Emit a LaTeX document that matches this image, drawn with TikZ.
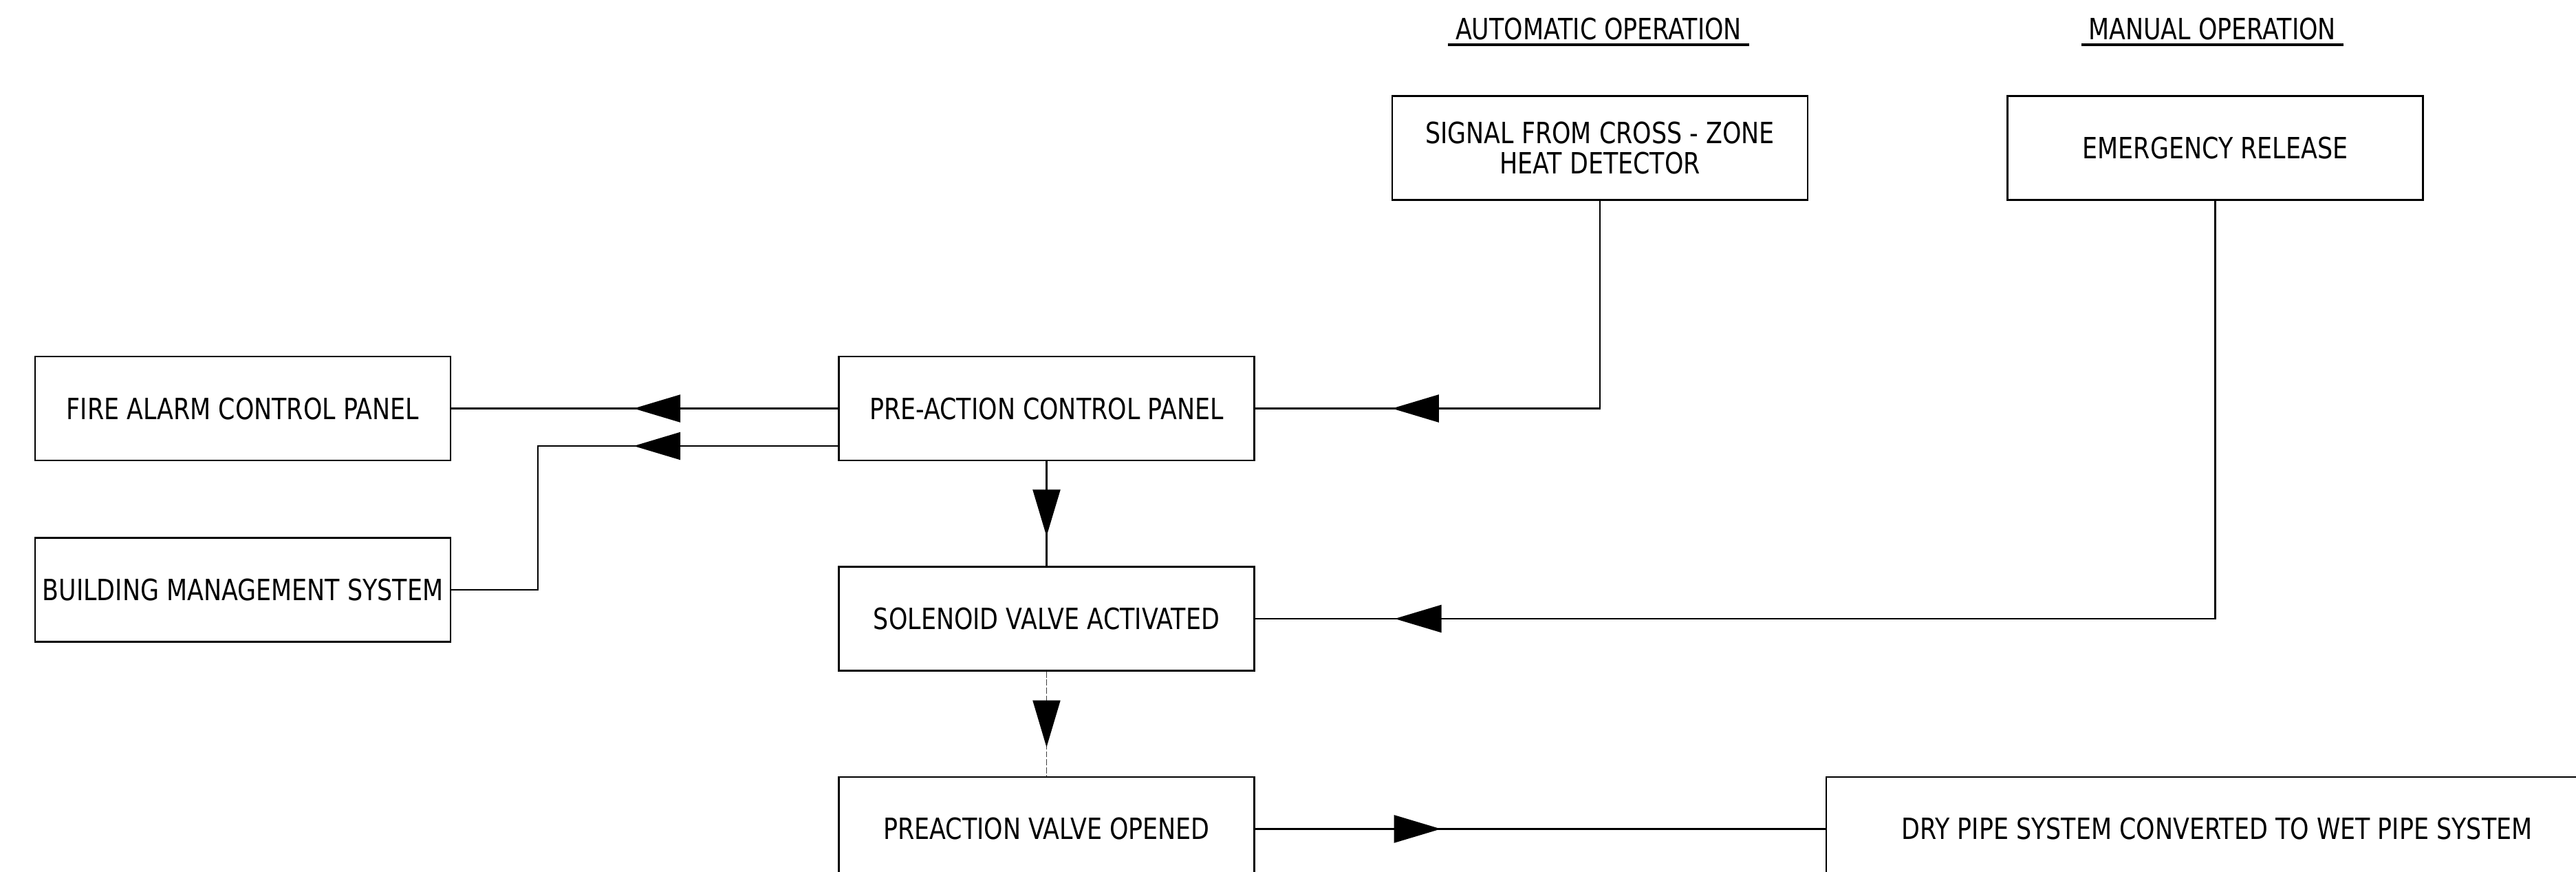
\documentclass[tikz,border=0pt]{standalone}
\usepackage{fontspec}
\setmainfont[FakeStretch=0.82]{DejaVu Sans}
\usepackage{tikz}
\usetikzlibrary{arrows.meta, positioning, decorations.markings}
\newcommand{\boxfont}{\fontsize{12.1}{12.4}\selectfont}
\tikzset{
  box/.style={rectangle, draw, line width=0.7pt, minimum width=6.04cm, minimum height=1.51cm,
              inner sep=0pt, align=center, font=\boxfont},
  heading/.style={inner xsep=1mm, inner ysep=0.6mm, font=\boxfont},
  flow/.style={line width=0.7pt},
  dashflow/.style={line width=0.5pt, draw=black!75, dash pattern=on 2.5pt off 0.8pt},
  midarrow/.style={postaction={decorate}, decoration={markings,
              mark=at position #1 with {\arrow{Triangle[length=6.8mm, width=4mm, color=black]}}}},
}

\begin{document}
\begin{tikzpicture}[node distance=1.52cm and 5.62cm]
    \clip (0,0) rectangle (37.45,-12.66);
    \node[box] (facp) at (3.53,-5.935) {FIRE ALARM CONTROL PANEL};
    \node[box, below=1.10cm of facp] (bms) {BUILDING MANAGEMENT SYSTEM};
    \node[box, right=of facp] (pacp) {PRE-ACTION CONTROL PANEL};
    \node[box, below=of pacp] (sva) {SOLENOID VALVE ACTIVATED};
    \node[box, below=of sva] (pvo) {PREACTION VALVE OPENED};
    \node[box] (signal) at (23.26,-2.15) {SIGNAL FROM CROSS - ZONE\\ HEAT DETECTOR};
    \node[box, right=2.88cm of signal] (emerg) {EMERGENCY RELEASE};
    \node[box, minimum width=11.36cm, right=8.29cm of pvo] (dps) {DRY PIPE SYSTEM CONVERTED TO WET PIPE SYSTEM};

    % headings
    \node[heading] (auto) at (23.24,-0.42) {AUTOMATIC OPERATION};
    \node[heading] (manual) at (32.16,-0.42) {MANUAL OPERATION};
    \draw[line width=1pt] (auto.south west) -- (auto.south east);
    \draw[line width=1pt] (manual.south west) -- (manual.south east);

    \draw[flow, midarrow=2.97cm] (pacp.west) -- (facp.east);
    \draw[flow, midarrow=2.97cm] ([yshift=-5.45mm]pacp.west) -- ++(-4.36,0) |- (bms.east);
    \draw[flow, midarrow=6.04cm] (signal.south) |- (pacp.east);
    \draw[flow, midarrow=1.09cm] (pacp.south) -- (sva.north);
    \draw[flow, midarrow=18.0cm] (emerg.south) |- (sva.east);
    \draw[dashflow, midarrow=1.10cm] (sva.south) -- (pvo.north);
    \draw[flow, midarrow=2.70cm] (pvo.east) -- (dps.west);
  \end{tikzpicture}
\end{document}
